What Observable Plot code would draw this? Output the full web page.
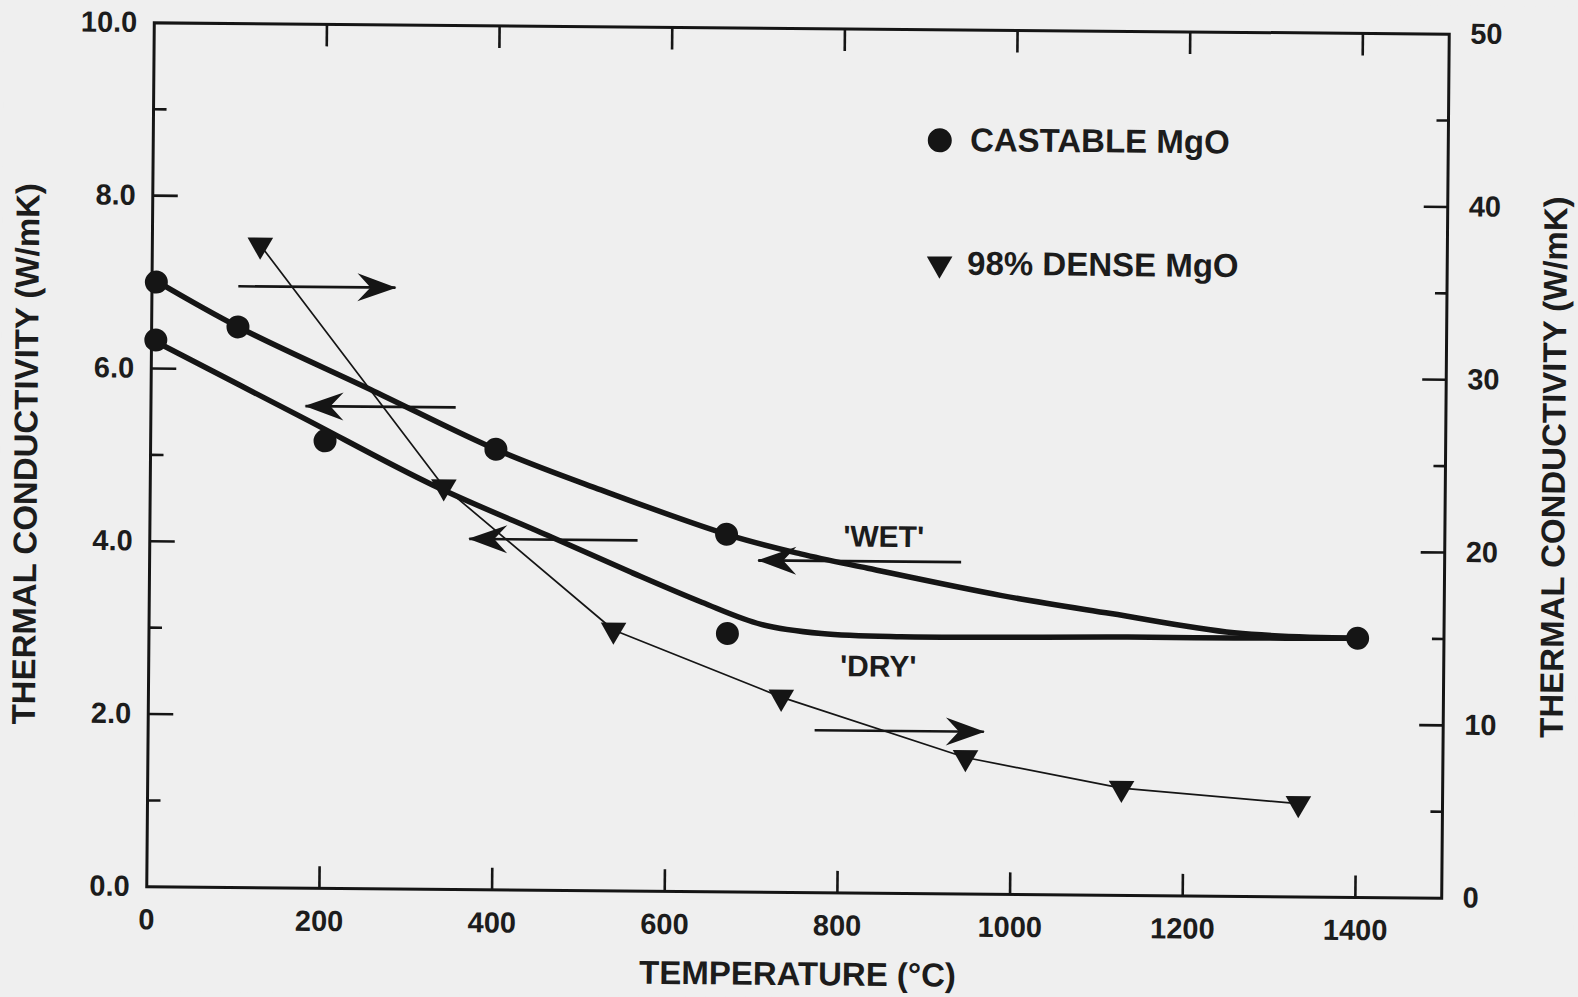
<!DOCTYPE html>
<html>
<head>
<meta charset="utf-8">
<script src="https://cdn.jsdelivr.net/npm/d3@7"></script>
<script src="https://cdn.jsdelivr.net/npm/@observablehq/plot@0.6"></script>
<style>
  html, body { margin: 0; padding: 0; background: #efefef; }
  #chart { width: 1578px; height: 997px; overflow: hidden; background: #efefef; }
  #chart svg { transform: rotate(0.5deg); transform-origin: 797px 460px; }
</style>
</head>
<body>
<div id="chart"></div>
<script>
// ---------- data ----------
// Castable MgO measured points (left axis, W/mK)
const wetPointT = [5, 100, 400, 668, 1400];
const wetPointK = [7.0, 6.49, 5.10, 4.14, 3.0];
const dryPointT = [5, 202, 670];
const dryPointK = [6.33, 5.18, 2.99];

// Castable MgO fitted curves (left axis)
const wetCurveT = [5, 102, 258, 402, 522, 671, 754, 832, 986, 1114, 1257, 1400];
const wetCurveK = [7.01, 6.48, 5.76, 5.09, 4.64, 4.13, 3.92, 3.76, 3.46, 3.26, 3.05, 3.0];
const dryCurveT = [5, 173, 327, 465, 560, 640, 709, 779, 871, 1134, 1257, 1400];
const dryCurveK = [6.31, 5.46, 4.68, 4.09, 3.68, 3.35, 3.10, 3.0, 2.97, 2.99, 2.99, 3.0];

// 98% dense MgO (right axis, W/mK)
const denseT = [125, 340, 538, 733, 947, 1128, 1333];
const denseK = [37.2, 23.3, 15.1, 11.3, 7.9, 6.2, 5.4];

// Axis-pointing arrows (left-axis units)
const arrowFromT = [100, 353, 565, 940, 772];
const arrowToT   = [282, 179, 370, 705, 968];
const arrowK     = [6.96, 5.58, 4.06, 3.84, 1.88];
const arrowDir   = ["right", "left", "left", "left", "right"];

// Curve annotations
const noteText = ["'WET'", "'DRY'"];
const noteT = [850, 845];
const noteK = [4.12, 2.62];

// Legend
const legendLabels = ["CASTABLE MgO", "98% DENSE MgO"];
const legendSymbols = ["circle", "triangle"];
const legendMarkerT = [911, 912];
const legendTextT = [946, 944];
const legendK = [8.72, 7.29];

// Ticks
const xTickValues = [0, 200, 400, 600, 800, 1000, 1200, 1400];
const innerXTicks = [200, 400, 600, 800, 1000, 1200, 1400];
const leftTickValues = [0, 2, 4, 6, 8, 10];
const leftInnerMajor = [2, 4, 6, 8];
const leftMinor = [1, 3, 5, 7, 9];
const rightTickValues = [0, 10, 20, 30, 40, 50];
const rightInnerMajor = [10, 20, 30, 40];
const rightMinor = [5, 15, 25, 35, 45];
const RIGHT_PER_LEFT = 5; // right axis 0–50 spans left axis 0–10

// ---------- tables ----------
const zip = (T, K) => T.map((t, i) => ({t, k: K[i]}));
const wetPts = zip(wetPointT, wetPointK);
const dryPts = zip(dryPointT, dryPointK);
const wetCurve = zip(wetCurveT, wetCurveK);
const dryCurve = zip(dryCurveT, dryCurveK);
const dense = zip(denseT, denseK);
const arrows = arrowFromT.map((f, i) => ({from: f, to: arrowToT[i], k: arrowK[i], dir: arrowDir[i]}));
const notes = noteText.map((s, i) => ({s, t: noteT[i], k: noteK[i]}));
const legend = legendLabels.map((s, i) => ({s, sym: legendSymbols[i], mt: legendMarkerT[i], tt: legendTextT[i], k: legendK[i]}));

// ---------- custom glyphs ----------
const seg = (dx, dy) => ({draw(ctx) { ctx.moveTo(0, 0); ctx.lineTo(dx, dy); }});
const triDown = {draw(ctx, size) {
  const y = Math.sqrt(size / (3 * Math.sqrt(3)));
  ctx.moveTo(0, 2 * y); ctx.lineTo(-Math.sqrt(3) * y, -y); ctx.lineTo(Math.sqrt(3) * y, -y); ctx.closePath();
}};
const headRight = {draw(ctx) { ctx.moveTo(1, 0); ctx.lineTo(-38, -14); ctx.lineTo(-25, 0); ctx.lineTo(-38, 14); ctx.closePath(); }};
const headLeft = {draw(ctx) { ctx.moveTo(-1, 0); ctx.lineTo(38, -14); ctx.lineTo(25, 0); ctx.lineTo(38, 14); ctx.closePath(); }};

const INK = "#151515";
const TXT = "#1c1c1c";
const FONT = "'Liberation Sans', Arial, Helvetica, sans-serif";

const chart = Plot.plot({
  width: 1578,
  height: 997,
  marginLeft: 150,
  marginRight: 133,
  marginTop: 28,
  marginBottom: 105,
  style: {background: "#efefef", fontFamily: FONT, color: TXT},
  x: {domain: [0, 1500], axis: null},
  y: {domain: [0, 10], axis: null},
  marks: [
    Plot.frame({stroke: INK, strokeWidth: 3}),
    // inward ticks
    Plot.dot(innerXTicks, {x: d => d, y: 0, symbol: seg(0, -22), r: 5, fill: "none", stroke: INK, strokeWidth: 2.6}),
    Plot.dot(innerXTicks, {x: d => d, y: 10, symbol: seg(0, 22), r: 5, fill: "none", stroke: INK, strokeWidth: 2.6}),
    Plot.dot(leftInnerMajor, {x: 0, y: d => d, symbol: seg(25, 0), r: 5, fill: "none", stroke: INK, strokeWidth: 2.6}),
    Plot.dot(leftMinor, {x: 0, y: d => d, symbol: seg(13, 0), r: 5, fill: "none", stroke: INK, strokeWidth: 2.6}),
    Plot.dot(rightInnerMajor, {x: 1500, y: d => d / RIGHT_PER_LEFT, symbol: seg(-24, 0), r: 5, fill: "none", stroke: INK, strokeWidth: 2.6}),
    Plot.dot(rightMinor, {x: 1500, y: d => d / RIGHT_PER_LEFT, symbol: seg(-12, 0), r: 5, fill: "none", stroke: INK, strokeWidth: 2.6}),
    // axes (labels only)
    Plot.axisX(xTickValues, {anchor: "bottom", tickSize: 0, tickPadding: 22, tickFormat: d => String(d), label: null, fontSize: 29, fontWeight: "bold", fill: TXT}),
    Plot.axisY(leftTickValues, {anchor: "left", tickSize: 0, tickPadding: 17, tickFormat: d3.format(".1f"), label: null, fontSize: 29, fontWeight: "bold", fill: TXT}),
    Plot.axisY(rightTickValues.map(v => v / RIGHT_PER_LEFT), {anchor: "right", tickSize: 0, tickPadding: 21, tickFormat: d => String(Math.round(d * RIGHT_PER_LEFT)), label: null, fontSize: 29, fontWeight: "bold", fill: TXT}),
    // axis titles
    Plot.text(["THERMAL CONDUCTIVITY (W/mK)"], {frameAnchor: "left", dx: -124, rotate: -90, textAnchor: "middle", lineAnchor: "middle", text: d => d, fontSize: 33, fontWeight: "bold", fill: TXT}),
    Plot.text(["THERMAL CONDUCTIVITY (W/mK)"], {frameAnchor: "right", dx: 109, rotate: -90, textAnchor: "middle", lineAnchor: "middle", text: d => d, fontSize: 33, fontWeight: "bold", fill: TXT}),
    Plot.text(["TEMPERATURE (°C)"], {frameAnchor: "bottom", dx: 4, dy: 82, textAnchor: "middle", lineAnchor: "middle", text: d => d, fontSize: 33, fontWeight: "bold", fill: TXT}),
    // curves
    Plot.line(wetCurve, {x: "t", y: "k", curve: "catmull-rom", stroke: INK, strokeWidth: 5.5}),
    Plot.line(dryCurve, {x: "t", y: "k", curve: "catmull-rom", stroke: INK, strokeWidth: 5.5}),
    Plot.line(dense, {x: "t", y: d => d.k / RIGHT_PER_LEFT, stroke: INK, strokeWidth: 1.7}),
    // arrows
    Plot.link(arrows, {x1: "from", x2: "to", y1: "k", y2: "k", stroke: INK, strokeWidth: 2.6}),
    Plot.dot(arrows.filter(a => a.dir === "right"), {x: "to", y: "k", symbol: headRight, r: 5, fill: INK, stroke: "none"}),
    Plot.dot(arrows.filter(a => a.dir === "left"), {x: "to", y: "k", symbol: headLeft, r: 5, fill: INK, stroke: "none"}),
    // markers
    Plot.dot(wetPts, {x: "t", y: "k", r: 11.5, fill: INK, stroke: "none"}),
    Plot.dot(dryPts, {x: "t", y: "k", r: 11.5, fill: INK, stroke: "none"}),
    Plot.dot(dense, {x: "t", y: d => d.k / RIGHT_PER_LEFT, symbol: triDown, r: 9.5, fill: INK, stroke: "none"}),
    // notes
    Plot.text(notes, {x: "t", y: "k", text: "s", fontSize: 30, fontWeight: "bold", fill: TXT}),
    // legend
    Plot.dot(legend.filter(d => d.sym === "circle"), {x: "mt", y: "k", r: 12, fill: INK, stroke: "none"}),
    Plot.dot(legend.filter(d => d.sym === "triangle"), {x: "mt", y: "k", symbol: triDown, r: 9.5, fill: INK, stroke: "none"}),
    Plot.text(legend, {x: "tt", y: "k", text: "s", textAnchor: "start", fontSize: 33, fontWeight: "bold", fill: TXT})
  ]
});
document.getElementById("chart").appendChild(chart);
</script>
</body>
</html>
